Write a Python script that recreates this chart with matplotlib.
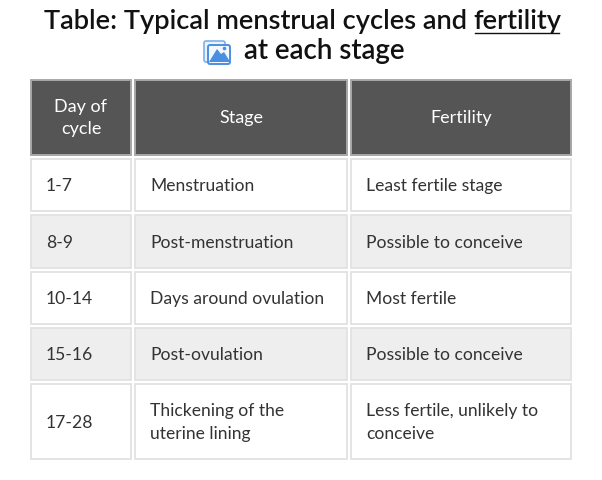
import matplotlib
matplotlib.use("Agg")
import matplotlib.pyplot as plt
from matplotlib.patches import Rectangle, FancyBboxPatch, Polygon, Circle

headers = ["Day of\ncycle", "Stage", "Fertility"]
days = ["1-7", "8-9", "10-14", "15-16", "17-28"]
stages = ["Menstruation", "Post-menstruation", "Days around ovulation",
          "Post-ovulation", "Thickening of the\nuterine lining"]
fertility = ["Least fertile stage", "Possible to conceive", "Most fertile",
             "Possible to conceive", "Less fertile, unlikely to\nconceive"]

col_edges = [(31, 131), (135, 347), (351, 571)]
row_edges = [(159, 211), (215, 268), (272, 324), (328, 380), (384, 459)]
header_edge = (80, 155)

plt.rcParams['font.family'] = ['Lato', 'DejaVu Sans']
fig = plt.figure(figsize=(6.02, 4.80), dpi=100)
ax = fig.add_axes([0, 0, 1, 1])
ax.set_xlim(0, 602)
ax.set_ylim(480, 0)
ax.axis('off')

# title
ax.text(467, 21, "Table: Typical menstrual cycles and", ha='right', va='center',
        fontsize=19.6, color='#111111', fontweight='semibold')
ax.text(473, 21, "fertility", ha='left', va='center',
        fontsize=19.6, color='#111111', fontweight='semibold')
ax.plot([475, 559], [32.5, 32.5], color='#111111', lw=1.0)
ax.text(324, 51.5, "at each stage", ha='center', va='center', fontsize=20, color='#111111',
        fontweight='semibold')

# icon
blue = '#4A90E2'
ax.add_patch(FancyBboxPatch((204, 41), 21, 21, boxstyle='round,pad=0,rounding_size=2',
                            fc='#EAF2FC', ec='#7FB0EA', lw=1.2))
ax.add_patch(FancyBboxPatch((208, 45), 22, 19, boxstyle='round,pad=0,rounding_size=2',
                            fc='#F4F8FE', ec=blue, lw=1.4))
ax.add_patch(Polygon([(209, 62), (217, 49), (221, 54), (224, 52), (229, 60), (229, 62)],
                     closed=True, fc=blue, ec='none'))
ax.add_patch(Circle((224.5, 48.5), 1.8, fc=blue, ec='none'))


def cell(x, y, fc, ec, lw):
    ax.add_patch(Rectangle((x[0], y[0]), x[1] - x[0], y[1] - y[0], fc=fc, ec=ec, lw=lw))


# header
for col, label in zip(col_edges, headers):
    cell(col, header_edge, '#555555', '#A8A8A8', 1.4)
    ax.text(sum(col) / 2, sum(header_edge) / 2 + 0.5, label, ha='center', va='center',
            fontsize=13, color='white', linespacing=1.45)

# body
for i, row in enumerate(row_edges):
    fill = '#EEEEEE' if i % 2 else 'white'
    values = (days[i], stages[i], fertility[i])
    for col, value in zip(col_edges, values):
        cell(col, row, fill, '#E2E2E2', 1.3)
        ax.text(col[0] + 15, sum(row) / 2 + 1, value, ha='left', va='center',
                fontsize=12.6, color='#333333', linespacing=1.5)

fig.savefig("out.png", dpi=100)
